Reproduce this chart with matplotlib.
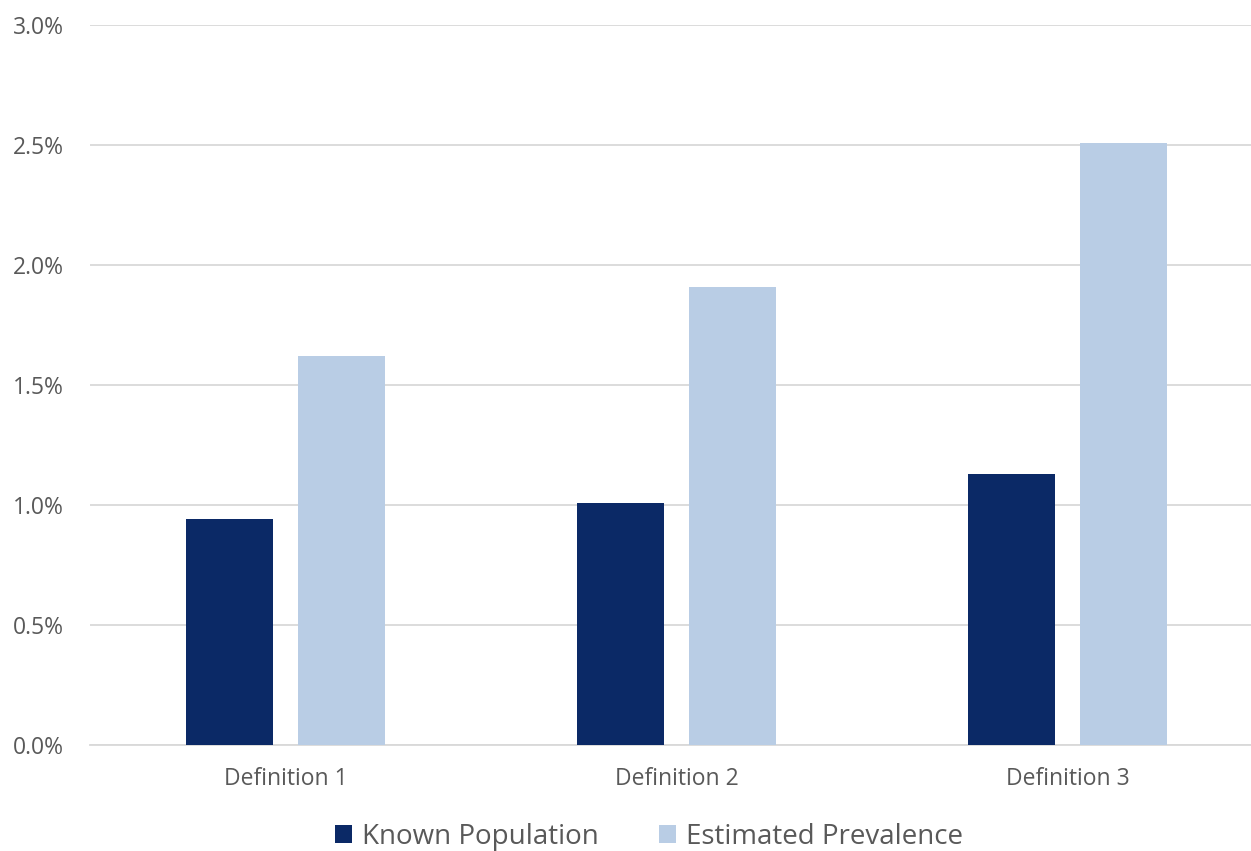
import matplotlib.pyplot as plt
import numpy as np
from matplotlib.ticker import PercentFormatter

plt.rcParams['font.family'] = ['Open Sans', 'DejaVu Sans']

categories = ["Definition 1", "Definition 2", "Definition 3"]
known_population = [0.94, 1.01, 1.13]
estimated_prevalence = [1.62, 1.91, 2.51]

navy, light = "#0B2966", "#B9CDE5"
grid, text = "#D9D9D9", "#595959"

fig = plt.figure(figsize=(12.51, 8.51), dpi=100)
# plot area runs a little past the right edge, like the source layout
ax = fig.add_axes([90 / 1251, 106 / 851, 1173 / 1251, 720 / 851])

x = np.arange(len(categories))
w = 0.2225
gap = 0.0614
ax.bar(x - (w + gap) / 2, known_population, w, color=navy, label="Known Population", zorder=3)
ax.bar(x + (w + gap) / 2, estimated_prevalence, w, color=light, label="Estimated Prevalence", zorder=3)

ax.set_xlim(-0.5, len(categories) - 0.5)
ax.set_ylim(0, 3.0)
ax.set_yticks(np.arange(0, 3.01, 0.5))
ax.yaxis.set_major_formatter(PercentFormatter(decimals=1))
ax.set_xticks(x, categories)
ax.grid(axis="y", color=grid, lw=1.3, zorder=0)
for s in ["top", "right", "left"]:
    ax.spines[s].set_visible(False)
ax.spines["bottom"].set_color(grid)
ax.spines["bottom"].set_linewidth(1.3)
ax.tick_params(axis="both", length=0, colors=text, labelsize=16.5)
ax.tick_params(axis="x", pad=16)
ax.tick_params(axis="y", pad=19)

ax.legend(loc="center", bbox_to_anchor=(0.4766, -0.128), ncol=2, frameon=False,
          fontsize=20, labelcolor=text, handlelength=0.61, handleheight=0.61,
          handletextpad=0.36, columnspacing=2.15)

fig.savefig("out.png", dpi=100)
